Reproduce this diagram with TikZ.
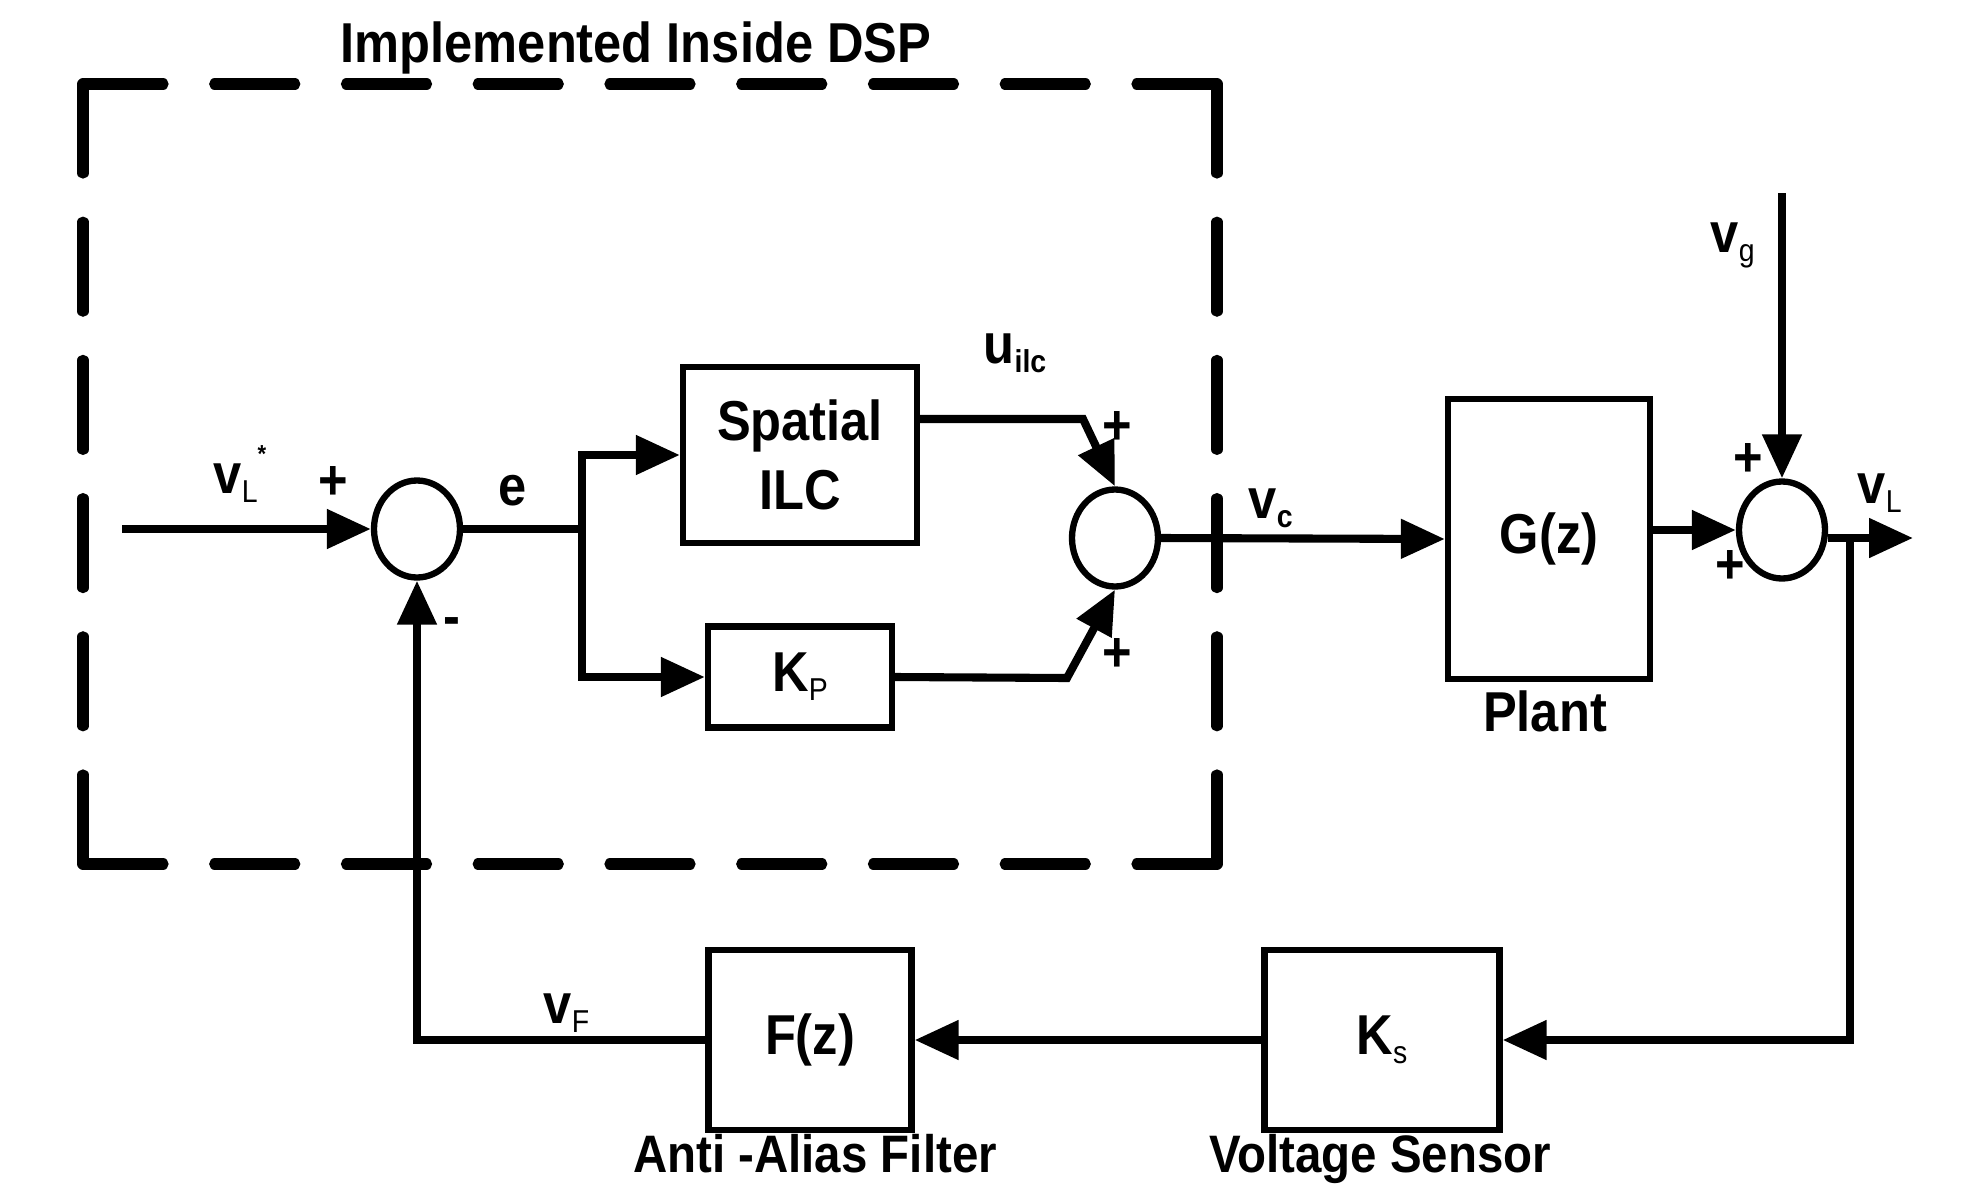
\documentclass[tikz,border=0pt]{standalone}
\usepackage{fontspec}
\setmainfont{Liberation Sans}[FakeStretch=0.9]
\usetikzlibrary{arrows.meta,shapes.geometric}

\newcommand{\subtxt}[1]{\raisebox{-2.6pt}{\fontsize{9}{9}\selectfont #1}}

\begin{document}
\begin{tikzpicture}[x=0.1mm, y=-0.1mm,
    block/.style={draw, line width=1.8pt, inner sep=0pt, align=center,
                  font=\bfseries\fontsize{16}{19.6}\selectfont},
    sumnode/.style={draw, ellipse, line width=1.8pt, minimum width=8.6mm,
                    minimum height=9.7mm, inner sep=0pt},
    wire/.style={line width=2.3pt},
    sig/.style={wire, -{Triangle[length=4.4mm, width=3.8mm]}},
    lbl/.style={inner sep=0pt, font=\bfseries\fontsize{16}{19.6}\selectfont},
    caption/.style={inner sep=0pt, font=\bfseries\fontsize{15}{18}\selectfont},
    dspline/.style={line width=3.2pt, line cap=round, dash pattern=#1}]
  \useasboundingbox (0,0) rectangle (1966,1185);

  % DSP boundary
  \draw[dspline={on 8mm off 5.175mm}] (83,84) -- (1217,84);
  \draw[dspline={on 8mm off 5.175mm}] (83,864) -- (1217,864);
  \draw[dspline={on 8.9mm off 4.92mm}] (83,84) -- (83,864);
  \draw[dspline={on 8.9mm off 4.92mm}] (1217,84) -- (1217,864);
  \node[lbl, anchor=base] (title) at (636,62) {Implemented Inside DSP};

  % summing junctions
  \node[sumnode] (s1) at (417,529) {};
  \node[sumnode] (s2) at (1115,538) {};
  \node[sumnode] (s3) at (1782,530) {};

  % blocks
  \node[block, minimum width=23.4mm, minimum height=17.6mm] (ilc) at (800,455) {Spatial\\ILC};
  \node[block, minimum width=18.4mm, minimum height=10.1mm] (kp) at (800,677) {K\subtxt{\mdseries P}};
  \node[block, minimum width=20.2mm, minimum height=28mm] (gz) at (1549,539) {G(z)};
  \node[block, minimum width=23.5mm, minimum height=18mm] (ks) at (1382,1040) {K\subtxt{\mdseries s}};
  \node[block, minimum width=20.3mm, minimum height=18mm] (fz) at (810,1040) {F(z)};

  % free ends and bends
  \coordinate (vin) at (122,529);
  \coordinate (br) at (582,529);
  \coordinate (uk) at (1083,419);
  \coordinate (pk) at (1067,678);
  \coordinate (vgin) at (1782,193);
  \coordinate (vout) at (1913,538);
  \coordinate (tap) at (1850,538);

  % connectors
  \draw[sig] (vin) -- (s1.west);
  \draw[wire] (s1.east) -- (br);
  \draw[sig] (br) |- (ilc.west);
  \draw[sig] (br) |- (kp.west);
  \draw[sig] (ilc.east |- uk) -- (uk) -- (s2.north);
  \draw[sig] (kp.east) -- (pk) -- (s2.south);
  \draw[sig] (s2.east) -- (gz.west);
  \draw[sig] (gz.east |- s3) -- (s3.west);
  \draw[sig] (vgin) -- (s3.north);
  \draw[sig] (s3.east |- vout) -- (vout);
  \draw[sig] (tap) |- (ks.east);
  \draw[sig] (ks.west) -- (fz.east);
  \draw[sig] (fz.west) -| (s1.south);

  % signal labels
  \node[lbl, anchor=base west] (lvref) at (213,493) {v\subtxt{\mdseries L}\raisebox{8.8pt}{\fontsize{7}{8}\selectfont *}};
  \node[lbl] (p1) at (333,483) {+};
  \node[lbl, anchor=base] (le) at (513,505) {e};
  \node[lbl] (m1) at (452,627) {-};
  \node[lbl, anchor=base west] (lu) at (983,363) {u\subtxt{ilc}};
  \node[lbl] (p2a) at (1117,428) {+};
  \node[lbl] (p2b) at (1117,655) {+};
  \node[lbl, anchor=base west] (lvc) at (1248,518) {v\subtxt{c}};
  \node[lbl, anchor=base west] (lvg) at (1710,252) {v\subtxt{\mdseries g}};
  \node[lbl] (p3a) at (1748,460) {+};
  \node[lbl] (p3b) at (1730,567) {+};
  \node[lbl, anchor=base west] (lvl) at (1857,503) {v\subtxt{\mdseries L}};
  \node[lbl, anchor=base west] (lvf) at (543,1023) {v\subtxt{\mdseries F}};

  % block captions
  \node[lbl, anchor=base] (cplant) at (1545,731) {Plant};
  \node[caption, anchor=base] (cfilt) at (815,1172) {Anti -Alias Filter};
  \node[caption, anchor=base] (csens) at (1380,1172) {Voltage Sensor};
\end{tikzpicture}
\end{document}
